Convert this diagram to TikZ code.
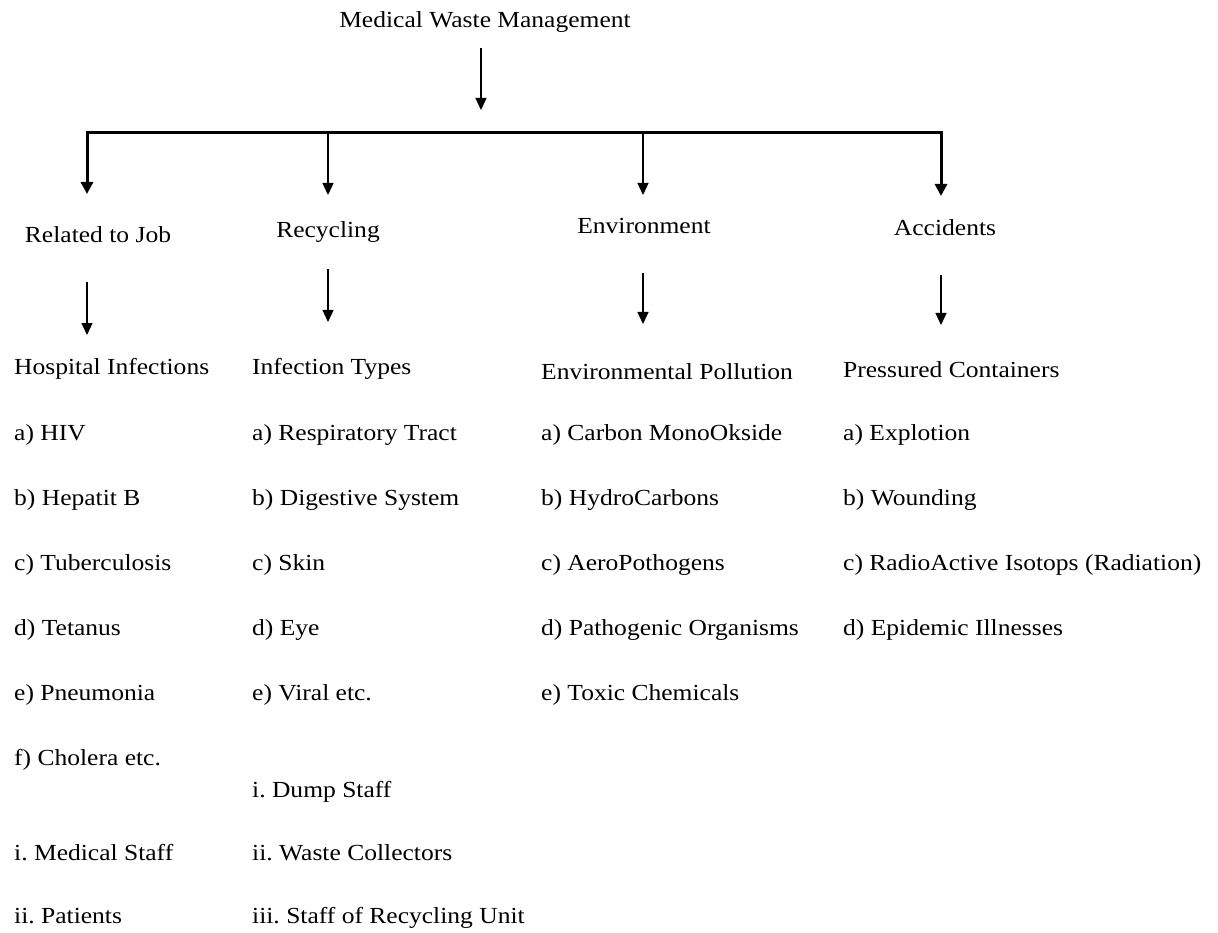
\documentclass[tikz,border=0pt]{standalone}
\usepackage{fontspec}
\setmainfont[FakeStretch=1.11]{Liberation Serif}
\usepackage{tikz}
\usetikzlibrary{arrows.meta}
\frenchspacing

\tikzset{
  item/.style={anchor=base west, inner sep=0pt},
  head/.style={anchor=base, inner sep=0pt},
  thinarr/.style={-{Triangle[length=12pt,width=11pt]}, line width=1.3pt},
  thickarr/.style={{Triangle[length=12pt,width=12pt]}-{Triangle[length=12pt,width=12pt]}, line width=3pt},
}

\begin{document}
\begin{tikzpicture}[x=1pt, y=-1pt, font=\fontsize{23}{28}\selectfont]
\useasboundingbox (0,0) rectangle (1218,933);
% title and first split
\node[head] (mwm) at (485,28) {Medical Waste Management};
\coordinate (mwm-out) at (481,48);
\coordinate (hub) at (481,110);
\coordinate (b1) at (87,133); \coordinate (b2) at (328,133);
\coordinate (b3) at (643,133); \coordinate (b4) at (941,133);
\coordinate (t1) at (87,194); \coordinate (t2) at (328,195);
\coordinate (t3) at (643,195); \coordinate (t4) at (941,196);
\draw[thinarr] (mwm-out) -- (hub);
\draw[thickarr] (t1) -- (b1) -- (b4) -- (t4);
\draw[thinarr] (b2) -- (t2); \draw[thinarr] (b3) -- (t3);
% categories
\node[head] (job) at (98,243) {Related to Job};
\node[head] (recyc) at (328,238) {Recycling};
\node[head] (env) at (644,234) {Environment};
\node[head] (acc) at (945,236) {Accidents};
\coordinate (job-out) at (87,282); \coordinate (job-in) at (87,335);
\coordinate (recyc-out) at (328,269); \coordinate (recyc-in) at (328,322);
\coordinate (env-out) at (643,273); \coordinate (env-in) at (643,324);
\coordinate (acc-out) at (941,275); \coordinate (acc-in) at (941,325);
\draw[thinarr] (job-out) -- (job-in); \draw[thinarr] (recyc-out) -- (recyc-in);
\draw[thinarr] (env-out) -- (env-in); \draw[thinarr] (acc-out) -- (acc-in);
% related to job
\node[item] (hosp) at (14,374) {Hospital Infections};
\node[item] (hosp-a) at (14,440) {a) HIV};
\node[item] (hosp-b) at (14,505) {b) Hepatit B};
\node[item] (hosp-c) at (14,570) {c) Tuberculosis};
\node[item] (hosp-d) at (14,635) {d) Tetanus};
\node[item] (hosp-e) at (14,700) {e) Pneumonia};
\node[item] (hosp-f) at (14,765) {f) Cholera etc.};
\node[item] (hosp-i) at (14,860) {i. Medical Staff};
\node[item] (hosp-ii) at (14,923) {ii. Patients};
% recycling
\node[item] (inf) at (252,374) {Infection Types};
\node[item] (inf-a) at (252,440) {a) Respiratory Tract};
\node[item] (inf-b) at (252,505) {b) Digestive System};
\node[item] (inf-c) at (252,570) {c) Skin};
\node[item] (inf-d) at (252,635) {d) Eye};
\node[item] (inf-e) at (252,700) {e) Viral etc.};
\node[item] (inf-i) at (252,797) {i. Dump Staff};
\node[item] (inf-ii) at (252,860) {ii. Waste Collectors};
\node[item] (inf-iii) at (252,923) {iii. Staff of Recycling Unit};
% environment
\node[item] (pol) at (541,379) {Environmental Pollution};
\node[item] (pol-a) at (541,440) {a) Carbon MonoOkside};
\node[item] (pol-b) at (541,505) {b) HydroCarbons};
\node[item] (pol-c) at (541,570) {c) AeroPothogens};
\node[item] (pol-d) at (541,635) {d) Pathogenic Organisms};
\node[item] (pol-e) at (541,700) {e) Toxic Chemicals};
% accidents
\node[item] (cont) at (843,377) {Pressured Containers};
\node[item] (cont-a) at (843,440) {a) Explotion};
\node[item] (cont-b) at (843,505) {b) Wounding};
\node[item] (cont-c) at (843,570) {c) RadioActive Isotops (Radiation)};
\node[item] (cont-d) at (843,635) {d) Epidemic Illnesses};
\end{tikzpicture}
\end{document}
